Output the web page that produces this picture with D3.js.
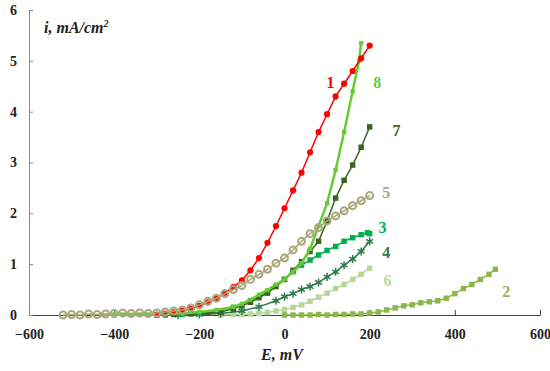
<!DOCTYPE html>
<html><head><meta charset="utf-8">
<script src="https://cdn.jsdelivr.net/npm/d3@7"></script>
<style>body{margin:0;background:#fff}svg{display:block}
svg text{font-family:"Liberation Serif","Times New Roman",Times,"DejaVu Serif",serif !important;}</style>
</head><body>
<script>
// ---- data ----
const xTicks = [-600,-400,-200,0,200,400,600];
const yTicks = [0,1,2,3,4,5,6];

const e1 = [-300,-280,-260,-240,-220,-200,-180,-160,-140,-120,-100,-80,-60,-40,-20,0,20,40,60,80,100,120,140,160,180,200];
const i1 = [0.01,0.03,0.05,0.08,0.12,0.18,0.25,0.33,0.44,0.55,0.68,0.88,1.12,1.42,1.75,2.1,2.45,2.8,3.2,3.6,3.95,4.3,4.55,4.8,5.05,5.3];

const e2 = [0,20,40,60,80,100,120,140,160,180,200,220,240,260,280,300,320,340,360,380,400,420,440,460,480,495];
const i2 = [0,0,0,0,0.01,0,0.01,0.01,0.02,0.02,0.04,0.06,0.1,0.14,0.18,0.2,0.24,0.26,0.28,0.33,0.42,0.52,0.6,0.7,0.8,0.9];

const e3 = [-280,-240,-200,-160,-120,-80,-40,0,20,40,60,80,100,120,140,160,180,195,200];
const i3 = [0,0.01,0.03,0.07,0.15,0.28,0.45,0.7,0.85,0.98,1.08,1.18,1.27,1.35,1.45,1.52,1.58,1.62,1.6];

const e4 = [-250,-200,-150,-100,-60,-20,0,20,40,60,80,100,120,140,160,180,200];
const i4 = [0,0.01,0.03,0.08,0.16,0.28,0.36,0.42,0.5,0.56,0.64,0.75,0.85,0.98,1.1,1.25,1.45];

const e5 = [-520,-500,-480,-460,-440,-420,-400,-380,-360,-340,-320,-300,-280,-260,-240,-220,-200,-180,-160,-140,-120,-100,-80,-60,-40,-20,0,20,40,60,80,100,120,140,160,180,200];
const i5 = [0,0.01,0,0.02,0.01,0.02,0.03,0.04,0.03,0.04,0.03,0.04,0.06,0.08,0.1,0.14,0.2,0.27,0.33,0.42,0.5,0.58,0.7,0.8,0.9,1.02,1.12,1.28,1.45,1.6,1.72,1.85,1.95,2.05,2.15,2.25,2.35];

const e6 = [-150,-120,-100,-80,-60,-40,-20,0,20,40,60,80,100,120,140,160,180,200];
const i6 = [0,0.01,0.01,0.02,0.03,0.05,0.08,0.11,0.15,0.2,0.27,0.35,0.43,0.52,0.6,0.7,0.8,0.92];

const e7 = [-300,-260,-220,-180,-150,-120,-100,-80,-60,-40,-20,0,20,40,60,80,100,120,140,160,180,200];
const i7 = [0,0.01,0.02,0.04,0.06,0.12,0.18,0.25,0.34,0.43,0.56,0.7,0.88,1.05,1.25,1.45,1.85,2.3,2.65,2.95,3.3,3.7];

const e8 = [-430,-400,-360,-320,-280,-240,-200,-160,-120,-100,-80,-60,-40,-20,0,20,40,60,80,100,120,140,160,175,180];
const i8 = [0,0.01,0,0.01,0.02,0.03,0.06,0.1,0.16,0.22,0.3,0.4,0.49,0.6,0.7,0.85,1.02,1.3,1.75,2.2,2.85,3.6,4.4,5.0,5.35];

const seriesNames = ["1","2","3","4","5","6","7","8"];
const labelE = [108,521,230,239,239,242,263,218];
const labelI = [4.57,0.47,1.73,1.24,2.42,0.69,3.64,4.57];

// ---- styles ----
const colors = {"1":"#ff0000","2":"#8cb84a","3":"#00b050","4":"#2e7a4a","5":"#a8a87a","6":"#b6d79a","7":"#3e6321","8":"#66cc33"};
const W = 550, H = 371;
const svg = d3.select("body").append("svg").attr("width",W).attr("height",H);
const x = d3.scaleLinear().domain([-600,600]).range([29,540]);
const y = d3.scaleLinear().domain([0,6]).range([315,10]);

// axes
const gx = svg.append("g").attr("transform",`translate(0,${y(0)})`)
  .call(d3.axisBottom(x).tickValues(xTicks).tickSizeInner(-5).tickSizeOuter(0).tickPadding(14));
gx.attr("font-family",null);
gx.select(".domain").attr("stroke","#444");
gx.selectAll(".tick line").attr("stroke","#444");
gx.selectAll("text").style("font-weight","bold").style("font-size","14px").attr("fill","#222");

const gy = svg.append("g").attr("transform",`translate(${x(-600)},0)`)
  .call(d3.axisLeft(y).tickValues(yTicks).tickSizeInner(-4).tickSizeOuter(0).tickPadding(12).tickFormat(d3.format("d")));
gy.attr("font-family",null);
gy.select(".domain").attr("stroke","#888");
gy.selectAll(".tick line").attr("stroke","#888");
gy.selectAll("text").style("font-weight","bold").style("font-size","14px").attr("fill","#222");

// axis titles
const yt = svg.append("text").attr("x",44).attr("y",33)
  .style("font-weight","bold").style("font-style","italic").style("font-size","16px").attr("fill","#222");
yt.append("tspan").text("i, mA/cm");
yt.append("tspan").attr("dy",-6).style("font-size","10px").text("2");
svg.append("text").attr("x",282).attr("y",360).attr("text-anchor","middle")
  .style("font-weight","bold").style("font-style","italic").style("font-size","16px").attr("fill","#222").text("E, mV");

const series = {
  "1":[e1,i1,"circle"],"2":[e2,i2,"square"],"3":[e3,i3,"square"],"4":[e4,i4,"star"],
  "5":[e5,i5,"ocircle"],"6":[e6,i6,"square"],"7":[e7,i7,"square"],"8":[e8,i8,"smallsq"]
};
const order = ["2","6","4","3","7","8","1","5"];
const line = d3.line().x(d=>x(d[0])).y(d=>y(d[1]));
order.forEach(k=>{
  const [es,is,m] = series[k];
  const pts = es.map((e,j)=>[e,is[j]]);
  const c = colors[k];
  const g = svg.append("g");
  g.append("path").datum(pts).attr("d",line).attr("fill","none").attr("stroke",c).attr("stroke-width",k==="8"?2.5:1.5);
  let sym, size, fill, stroke, sw;
  if(m==="circle"){sym=d3.symbolCircle;size=30;fill=c;stroke="none";sw=0;}
  else if(m==="ocircle"){sym=d3.symbolCircle;size=38;fill="none";stroke=c;sw=2;}
  else if(m==="square"){sym=d3.symbolSquare;size=30;fill=c;stroke="none";sw=0;}
  else if(m==="smallsq"){sym=d3.symbolSquare;size=18;fill=c;stroke="none";sw=0;}
  else {sym=d3.symbolAsterisk;size=45;fill="none";stroke=c;sw=1.5;}
  g.selectAll("path.m").data(pts).enter().append("path").attr("class","m")
    .attr("transform",d=>`translate(${x(d[0])},${y(d[1])})`)
    .attr("d",d3.symbol().type(sym).size(size))
    .attr("fill",fill).attr("stroke",stroke).attr("stroke-width",sw);
});

// series labels
seriesNames.forEach((n,j)=>{
  svg.append("text").attr("x",x(labelE[j])).attr("y",y(labelI[j])).attr("dy","0.35em")
    .attr("text-anchor","middle").style("font-weight","bold")
    .style("font-size","16px").attr("fill",colors[n]).text(n);
});
</script>
</body></html>
